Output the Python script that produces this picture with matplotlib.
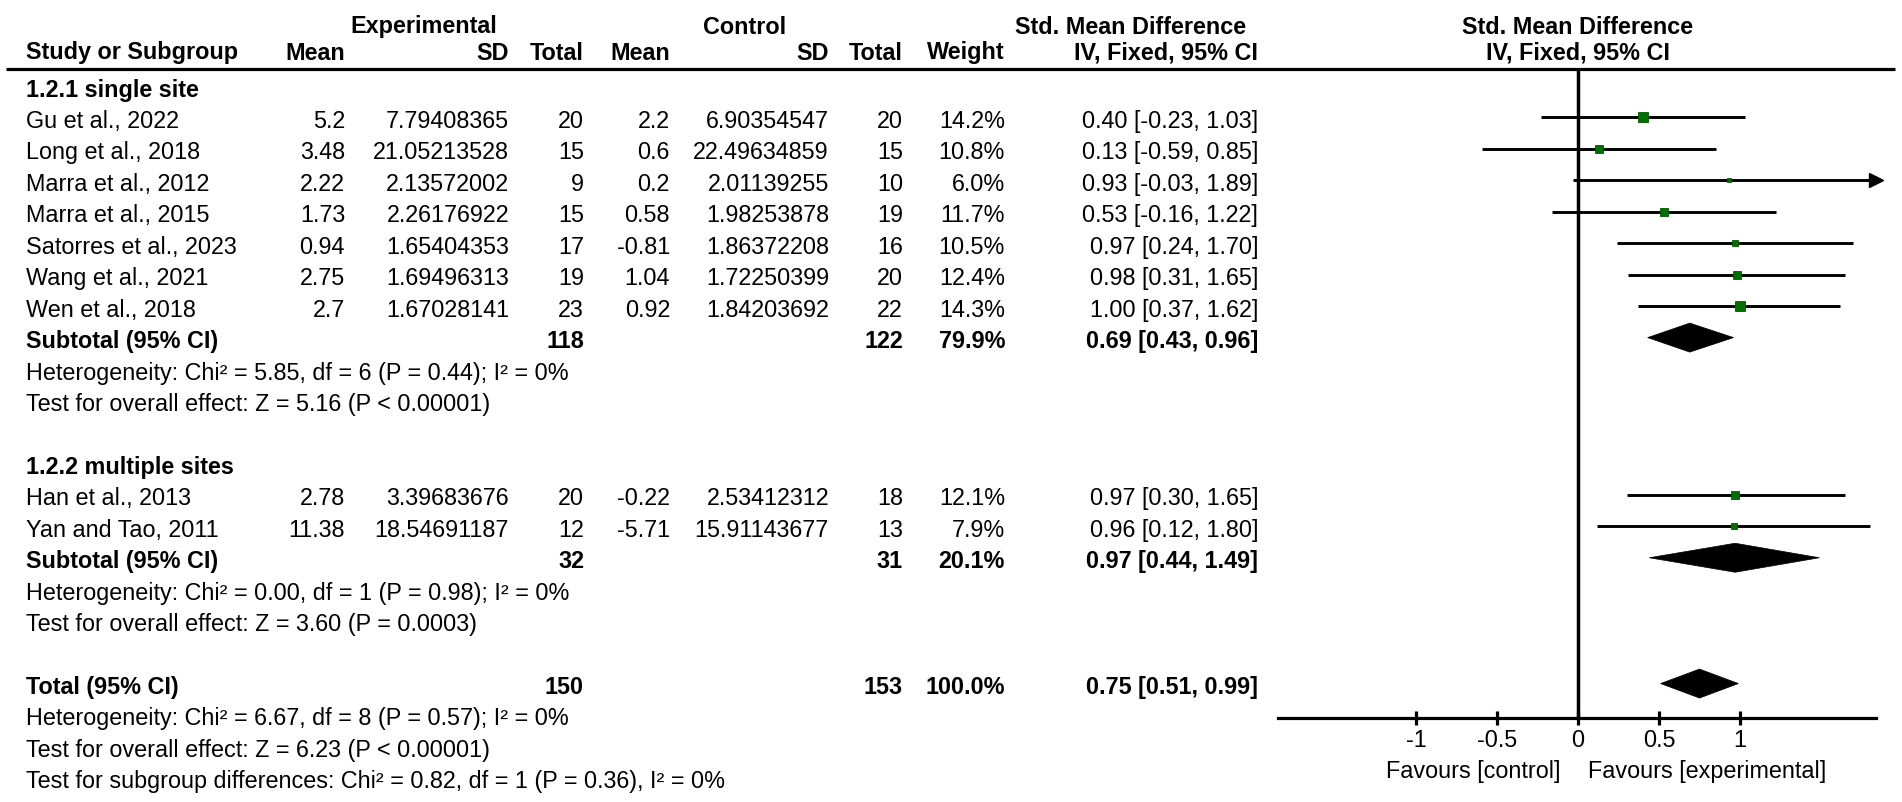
import matplotlib
matplotlib.use("Agg")
import matplotlib.pyplot as plt
from matplotlib.patches import Polygon

# ---------------- data ----------------
groups = ["1.2.1 single site", "1.2.2 multiple sites"]
studies = [
    ["Gu et al., 2022", "Long et al., 2018", "Marra et al., 2012", "Marra et al., 2015",
     "Satorres et al., 2023", "Wang et al., 2021", "Wen et al., 2018"],
    ["Han et al., 2013", "Yan and Tao, 2011"],
]
exp_mean = [["5.2", "3.48", "2.22", "1.73", "0.94", "2.75", "2.7"], ["2.78", "11.38"]]
exp_sd = [["7.79408365", "21.05213528", "2.13572002", "2.26176922", "1.65404353", "1.69496313", "1.67028141"],
          ["3.39683676", "18.54691187"]]
exp_n = [[20, 15, 9, 15, 17, 19, 23], [20, 12]]
ctl_mean = [["2.2", "0.6", "0.2", "0.58", "-0.81", "1.04", "0.92"], ["-0.22", "-5.71"]]
ctl_sd = [["6.90354547", "22.49634859", "2.01139255", "1.98253878", "1.86372208", "1.72250399", "1.84203692"],
          ["2.53412312", "15.91143677"]]
ctl_n = [[20, 15, 10, 19, 16, 20, 22], [18, 13]]
weight = [[14.2, 10.8, 6.0, 11.7, 10.5, 12.4, 14.3], [12.1, 7.9]]
smd = [[0.40, 0.13, 0.93, 0.53, 0.97, 0.98, 1.00], [0.97, 0.96]]
ci_lo = [[-0.23, -0.59, -0.03, -0.16, 0.24, 0.31, 0.37], [0.30, 0.12]]
ci_hi = [[1.03, 0.85, 1.89, 1.22, 1.70, 1.65, 1.62], [1.65, 1.80]]

sub_exp_n = [118, 32]
sub_ctl_n = [122, 31]
sub_weight = [79.9, 20.1]
sub_smd = [0.69, 0.97]
sub_lo = [0.43, 0.44]
sub_hi = [0.96, 1.49]
sub_het = ["Heterogeneity: Chi\u00b2 = 5.85, df = 6 (P = 0.44); I\u00b2 = 0%",
           "Heterogeneity: Chi\u00b2 = 0.00, df = 1 (P = 0.98); I\u00b2 = 0%"]
sub_test = ["Test for overall effect: Z = 5.16 (P < 0.00001)",
            "Test for overall effect: Z = 3.60 (P = 0.0003)"]

tot_exp_n = 150
tot_ctl_n = 153
tot_weight = 100.0
tot_smd = 0.75
tot_lo = 0.51
tot_hi = 0.99
tot_lines = ["Heterogeneity: Chi\u00b2 = 6.67, df = 8 (P = 0.57); I\u00b2 = 0%",
             "Test for overall effect: Z = 6.23 (P < 0.00001)",
             "Test for subgroup differences: Chi\u00b2 = 0.82, df = 1 (P = 0.36), I\u00b2 = 0%"]

xticks = [-1, -0.5, 0, 0.5, 1]
xticklabels = ["-1", "-0.5", "0", "0.5", "1"]

# ---------------- style ----------------
plt.rcParams["font.family"] = ["Liberation Sans", "DejaVu Sans"]
FS = 16.8
GREEN = "#007000"

W, H = 1902, 803
fig = plt.figure(figsize=(W / 100, H / 100), dpi=100)
ax = fig.add_axes([0, 0, 1, 1])
ax.set_xlim(0, W)
ax.set_ylim(H, 0)
ax.axis("off")

ROW0, DY = 90, 31.45
def ry(i):
    return ROW0 + DY * i

# column right edges (px)
C_EM, C_ESD, C_EN, C_CM, C_CSD, C_CN, C_W, C_CI = 345, 509, 584, 670, 829, 903, 1005, 1258
LEFT = 26

def t(x, y, s, ha="left", bold=False):
    ax.text(x, y, s, ha=ha, va="center", fontsize=FS, fontweight="bold" if bold else "normal")

# forest geometry (px)
X0, X1 = 1278, 1876
ZERO, UNIT = 1578, 162.0
YT, YB = 70, 719
MOFF = -3

# headers
t(424, 27, "Experimental", "center", True)
t(745, 27, "Control", "center", True)
t(1131, 27, "Std. Mean Difference", "center", True)
t(ZERO, 27, "Std. Mean Difference", "center", True)
hy = 53
t(LEFT, hy, "Study or Subgroup", bold=True)
t(C_EM, hy, "Mean", "right", True)
t(C_ESD, hy, "SD", "right", True)
t(C_EN, hy, "Total", "right", True)
t(C_CM, hy, "Mean", "right", True)
t(C_CSD, hy, "SD", "right", True)
t(C_CN, hy, "Total", "right", True)
t(C_W, hy, "Weight", "right", True)
t(C_CI, hy, "IV, Fixed, 95% CI", "right", True)
t(ZERO, hy, "IV, Fixed, 95% CI", "center", True)
ax.plot([6, 1895], [70, 70], color="black", lw=2.3, solid_capstyle="butt")

fax = fig.add_axes([X0 / W, 1 - YB / H, (X1 - X0) / W, (YB - YT) / H])
fax.set_xlim((X0 - ZERO) / UNIT, (X1 - ZERO) / UNIT)
ylo = (YB - ROW0 - MOFF) / DY
yhi = (YT - ROW0 - MOFF) / DY
fax.set_ylim(ylo, yhi)
fax.patch.set_alpha(0)
for sp in ["top", "left", "right"]:
    fax.spines[sp].set_visible(False)
fax.spines["bottom"].set_linewidth(2.3)
fax.set_yticks([])
fax.set_xticks(xticks)
fax.set_xticklabels(xticklabels, fontsize=FS)
fax.tick_params(axis="x", direction="inout", length=10, width=2.3, pad=2.0)
fax.axvline(0, color="black", lw=2.5)
xmax = fax.get_xlim()[1]

def diamond(row, est, lo, hi):
    h = 14.5 / DY
    fax.add_patch(Polygon([[lo, row], [est, row - h], [hi, row], [est, row + h]],
                          closed=True, facecolor="black", edgecolor="black", lw=0.5))

row = 0
for g in range(len(groups)):
    t(LEFT, ry(row), groups[g], bold=True)
    row += 1
    for k in range(len(studies[g])):
        y = ry(row)
        t(LEFT, y, studies[g][k])
        t(C_EM, y, exp_mean[g][k], "right")
        t(C_ESD, y, exp_sd[g][k], "right")
        t(C_EN, y, str(exp_n[g][k]), "right")
        t(C_CM, y, ctl_mean[g][k], "right")
        t(C_CSD, y, ctl_sd[g][k], "right")
        t(C_CN, y, str(ctl_n[g][k]), "right")
        t(C_W, y, f"{weight[g][k]:.1f}%", "right")
        t(C_CI, y, f"{smd[g][k]:.2f} [{ci_lo[g][k]:.2f}, {ci_hi[g][k]:.2f}]", "right")
        hi = min(ci_hi[g][k], xmax)
        fax.plot([ci_lo[g][k], hi], [row, row], color="black", lw=2.1, solid_capstyle="butt")
        if ci_hi[g][k] > xmax:
            fax.plot([xmax], [row], marker=">", color="black", ms=10, clip_on=False)
        side = 0.65 * weight[g][k] * 0.72
        fax.plot([smd[g][k]], [row], marker="s", ms=side, color=GREEN,
                 markeredgecolor="#005a00", markeredgewidth=0.6)
        row += 1
    y = ry(row)
    t(LEFT, y, "Subtotal (95% CI)", bold=True)
    t(C_EN, y, str(sub_exp_n[g]), "right", True)
    t(C_CN, y, str(sub_ctl_n[g]), "right", True)
    t(C_W, y, f"{sub_weight[g]:.1f}%", "right", True)
    t(C_CI, y, f"{sub_smd[g]:.2f} [{sub_lo[g]:.2f}, {sub_hi[g]:.2f}]", "right", True)
    diamond(row, sub_smd[g], sub_lo[g], sub_hi[g])
    row += 1
    t(LEFT, ry(row), sub_het[g]); row += 1
    t(LEFT, ry(row), sub_test[g]); row += 1
    row += 1

y = ry(row)
t(LEFT, y, "Total (95% CI)", bold=True)
t(C_EN, y, str(tot_exp_n), "right", True)
t(C_CN, y, str(tot_ctl_n), "right", True)
t(C_W, y, f"{tot_weight:.1f}%", "right", True)
t(C_CI, y, f"{tot_smd:.2f} [{tot_lo:.2f}, {tot_hi:.2f}]", "right", True)
diamond(row, tot_smd, tot_lo, tot_hi)
row += 1
for s in tot_lines:
    t(LEFT, ry(row), s)
    row += 1

fax.annotate("Favours [control]", xy=(0, 0), xycoords=("data", "axes fraction"),
             xytext=(-18, -53), textcoords="offset pixels", ha="right", va="center", fontsize=FS)
fax.annotate("Favours [experimental]", xy=(0, 0), xycoords=("data", "axes fraction"),
             xytext=(10, -53), textcoords="offset pixels", ha="left", va="center", fontsize=FS)

fig.savefig("out.png", dpi=100)
